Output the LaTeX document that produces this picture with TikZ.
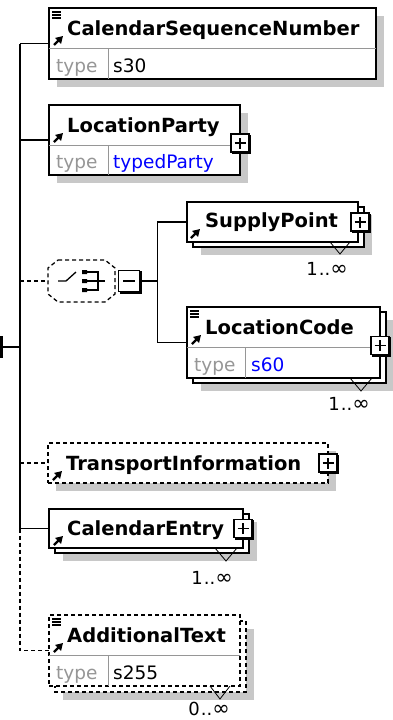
\documentclass[tikz,border=0pt]{standalone}
\usepackage{fontspec}
\setmainfont{DejaVu Sans}
\usepackage{xcolor}
\usetikzlibrary{positioning,arrows.meta,backgrounds}

\definecolor{shadegray}{RGB}{200,200,200}
\definecolor{rowgray}{RGB}{150,150,150}
\definecolor{typeblue}{RGB}{0,0,255}

\tikzset{
  elbox/.style={draw,line width=1.5pt,fill=white,anchor=north west,inner sep=0pt,outer sep=0pt},
  optline/.style={dash pattern=on 4pt off 3pt},
  shade/.style={fill=shadegray},
  link/.style={line width=1.5pt},
  elname/.style={font=\bfseries\fontsize{19.5}{20}\selectfont,anchor=base west,inner sep=0pt},
  typetxt/.style={font=\fontsize{18.5}{18}\selectfont,anchor=base west,inner sep=0pt},
  multtxt/.style={font=\fontsize{18}{18}\selectfont,anchor=base east,inner sep=0pt},
  divider/.style={draw=rowgray,line width=1pt},
  refarrow/.style={line width=2.4pt,-{Triangle[length=7pt,width=8pt]}},
  doclines/.style={line width=1.2pt},
  manyv/.style={line width=0.8pt},
  pmbox/.style={draw,line width=1.3pt,fill=white,minimum size=18pt,inner sep=0pt,
    preaction={fill=black,draw=black,transform canvas={shift={(1.5pt,-1.5pt)}}}},
  plusbox/.style={pmbox,path picture={
    \draw[line width=1.1pt] ([xshift=-5.5pt]path picture bounding box.center) -- ([xshift=5.5pt]path picture bounding box.center)
      ([yshift=-5.5pt]path picture bounding box.center) -- ([yshift=5.5pt]path picture bounding box.center);}},
  minusbox/.style={pmbox,minimum size=21pt,path picture={
    \draw[line width=1.1pt] ([xshift=-6pt]path picture bounding box.center) -- ([xshift=6pt]path picture bounding box.center);}}
}
\newcommand{\seqoutline}{([shift={(10,0)}]seq.north west) -- ([shift={(-10,0)}]seq.north east)
  -- ([shift={(0,8)}]seq.north east) -- ([shift={(0,-8)}]seq.south east) -- ([shift={(-10,0)}]seq.south east)
  -- ([shift={(10,0)}]seq.south west) -- ([shift={(0,-8)}]seq.south west) -- ([shift={(0,8)}]seq.north west) -- cycle}
\newcommand{\manyinf}{\kern1pt..{\fontsize{21}{18}\selectfont ∞}}

\begin{document}
\begin{tikzpicture}[x=1pt,y=-1pt]
\useasboundingbox (0,0) rectangle (393,720);

\coordinate (root) at (0,347);
\coordinate (spine) at (20,347);

% CalendarSequenceNumber
\node[elbox,minimum width=327pt,minimum height=71pt] (csn) at (49,8) {};
\draw[divider] ([shift={(0,40)}]csn.north west) -- ([shift={(0,40)}]csn.north east);
\draw[divider] ([shift={(59,40)}]csn.north west) -- ([shift={(59,0)}]csn.south west);
\node[elname] (csnname) at ([shift={(18,27)}]csn.north west) {CalendarSequenceNumber};
\node[typetxt,text=rowgray] (csntype) at ([shift={(7,-7)}]csn.south west) {type};
\node[typetxt] (csnval) at ([shift={(64,-7)}]csn.south west) {s30};
\draw[doclines] ([shift={(3,4)}]csn.north west) -- ++(9,0) ++(-9,3) -- ++(9,0) ++(-9,3) -- ++(9,0);
\draw[refarrow] ([shift={(5,37)}]csn.north west) -- ++(9,-9);

% LocationParty
\node[elbox,minimum width=191pt,minimum height=70pt] (lp) at (49,105) {};
\draw[divider] ([shift={(0,40)}]lp.north west) -- ([shift={(0,40)}]lp.north east);
\draw[divider] ([shift={(59,40)}]lp.north west) -- ([shift={(59,0)}]lp.south west);
\node[elname] (lpname) at ([shift={(18,27)}]lp.north west) {LocationParty};
\node[typetxt,text=rowgray] (lptype) at ([shift={(7,-7)}]lp.south west) {type};
\node[typetxt,text=typeblue] (lpval) at ([shift={(64,-7)}]lp.south west) {typedParty};
\draw[refarrow] ([shift={(5,37)}]lp.north west) -- ++(9,-9);
\node[plusbox] (lpx) at ([shift={(0,3)}]lp.east) {};

% choice
\node[minimum width=67pt,minimum height=42pt,inner sep=0pt,outer sep=0pt] (seq) at (81.5,281) {};
\draw[line width=1.3pt,optline,fill=white] \seqoutline;
\begin{scope}[shift={(seq.center)},line width=1.3pt]
  \draw (-23.5,0) -- (-15.5,0) -- (-5.5,-9);
  \fill (0.5,-11) rectangle (5.5,-7) (0.5,-2) rectangle (5.5,2) (0.5,7) rectangle (5.5,11);
  \draw (5.5,-9) -- (16.5,-9) -- (16.5,9) -- (5.5,9) (5.5,0) -- (23.5,0);
\end{scope}
\node[minusbox,right=3pt of seq] (seqx) {};
\coordinate (fork) at ([shift={(17,0)}]seqx.east);

% SupplyPoint
\node[elbox,minimum width=171pt,minimum height=40pt] (sp) at (187,202) {};
\node[elname] (spname) at ([shift={(18,25)}]sp.north west) {SupplyPoint};
\draw[refarrow] ([shift={(4,36)}]sp.north west) -- ++(9,-9);
\node[plusbox] (spx) at ([shift={(2,0)}]sp.east) {};
\draw[manyv] ([shift={(-28,0)}]sp.south east) -- ++(10,12) -- ++(10,-12);
\node[multtxt] (spm) at ([shift={(-10,33)}]sp.south east) {1\manyinf};

% LocationCode
\node[elbox,minimum width=193pt,minimum height=71pt] (lc) at (187,307) {};
\draw[divider] ([shift={(0,40)}]lc.north west) -- ([shift={(0,40)}]lc.north east);
\draw[divider] ([shift={(58,40)}]lc.north west) -- ([shift={(58,0)}]lc.south west);
\node[elname] (lcname) at ([shift={(18,27)}]lc.north west) {LocationCode};
\node[typetxt,text=rowgray] (lctype) at ([shift={(7,-7)}]lc.south west) {type};
\node[typetxt,text=typeblue] (lcval) at ([shift={(64,-7)}]lc.south west) {s60};
\draw[doclines] ([shift={(3,4)}]lc.north west) -- ++(9,0) ++(-9,3) -- ++(9,0) ++(-9,3) -- ++(9,0);
\draw[refarrow] ([shift={(5,37)}]lc.north west) -- ++(9,-9);
\node[plusbox] (lcx) at ([shift={(0,3)}]lc.east) {};
\draw[manyv] ([shift={(-30,0)}]lc.south east) -- ++(11,13) -- ++(11,-13);
\node[multtxt] (lcm) at ([shift={(-10,32)}]lc.south east) {1\manyinf};

% TransportInformation
\node[elbox,optline,minimum width=280pt,minimum height=40pt] (ti) at (48,443) {};
\node[elname] (tiname) at ([shift={(18,27)}]ti.north west) {TransportInformation};
\draw[refarrow] ([shift={(5,37)}]ti.north west) -- ++(9,-9);
\node[plusbox] (tix) at (ti.east) {};

% CalendarEntry
\node[elbox,minimum width=194pt,minimum height=39pt] (ce) at (49,509) {};
\node[elname] (cename) at ([shift={(18,26)}]ce.north west) {CalendarEntry};
\draw[refarrow] ([shift={(5,36)}]ce.north west) -- ++(9,-9);
\node[plusbox] (cex) at (ce.east) {};
\draw[manyv] ([shift={(-28,0)}]ce.south east) -- ++(11,13) -- ++(11,-13);
\node[multtxt] (cem) at ([shift={(-10,36)}]ce.south east) {1\manyinf};

% AdditionalText
\node[elbox,optline,minimum width=191pt,minimum height=71pt] (at) at (49,615) {};
\draw[divider] ([shift={(0,40)}]at.north west) -- ([shift={(0,40)}]at.north east);
\draw[divider] ([shift={(59,40)}]at.north west) -- ([shift={(59,0)}]at.south west);
\node[elname] (atname) at ([shift={(18,27)}]at.north west) {AdditionalText};
\node[typetxt,text=rowgray] (attype) at ([shift={(7,-7)}]at.south west) {type};
\node[typetxt] (atval) at ([shift={(64,-7)}]at.south west) {s255};
\draw[doclines] ([shift={(3,4)}]at.north west) -- ++(9,0) ++(-9,3) -- ++(9,0) ++(-9,3) -- ++(9,0);
\draw[refarrow] ([shift={(5,37)}]at.north west) -- ++(9,-9);
\draw[manyv] ([shift={(-30,0)}]at.south east) -- ++(10,13) -- ++(10,-13);
\node[multtxt] (atm) at ([shift={(-10,29)}]at.south east) {0\manyinf};

% shadows and stacked copies
\begin{scope}[on background layer]
  \fill[shade] ([shift={(8,8)}]csn.north west) rectangle ([shift={(8,8)}]csn.south east);
  \fill[shade] ([shift={(8,8)}]lp.north west) rectangle ([shift={(8,8)}]lp.south east);
  \begin{scope}[shift={(6,7)}]
    \fill[shade] \seqoutline;
  \end{scope}
  \fill[shade] ([shift={(14,13)}]sp.north west) rectangle ([shift={(14,13)}]sp.south east);
  \draw[line width=1.5pt,fill=white] ([shift={(6,5)}]sp.north west) rectangle ([shift={(6,5)}]sp.south east);
  \fill[shade] ([shift={(14,13)}]lc.north west) rectangle ([shift={(14,13)}]lc.south east);
  \draw[line width=1.5pt,fill=white] ([shift={(6,5)}]lc.north west) rectangle ([shift={(6,5)}]lc.south east);
  \fill[shade] ([shift={(8,8)}]ti.north west) rectangle ([shift={(8,8)}]ti.south east);
  \fill[shade] ([shift={(14,13)}]ce.north west) rectangle ([shift={(14,13)}]ce.south east);
  \draw[line width=1.5pt,fill=white] ([shift={(6,5)}]ce.north west) rectangle ([shift={(6,5)}]ce.south east);
  \fill[shade] ([shift={(14,14)}]at.north west) rectangle ([shift={(14,14)}]at.south east);
  \draw[line width=1.5pt,optline,fill=white] ([shift={(6,6)}]at.north west) rectangle ([shift={(6,6)}]at.south east);
\end{scope}

% connectors
\fill ([shift={(0,-11)}]root) rectangle ([shift={(3,11)}]root);
\draw[link] (root) -- (spine);
\draw[link] (spine |- csn.west) -- (spine |- ce.west);
\draw[link] (spine |- csn.west) -- (csn.west);
\draw[link] (spine |- lp.west) -- (lp.west);
\draw[link,optline] (spine |- seq.west) -- (seq.west);
\draw[link,optline] (spine |- ti.west) -- (ti.west);
\draw[link] (spine |- ce.west) -- (ce.west);
\draw[link,optline] (spine |- ce.west) |- (at.west);
\draw[link] (seqx.east) -- (fork);
\draw[link] (fork |- sp.west) -- (fork |- lc.west);
\draw[link] (fork |- sp.west) -- (sp.west);
\draw[link] (fork |- lc.west) -- (lc.west);
\end{tikzpicture}
\end{document}
